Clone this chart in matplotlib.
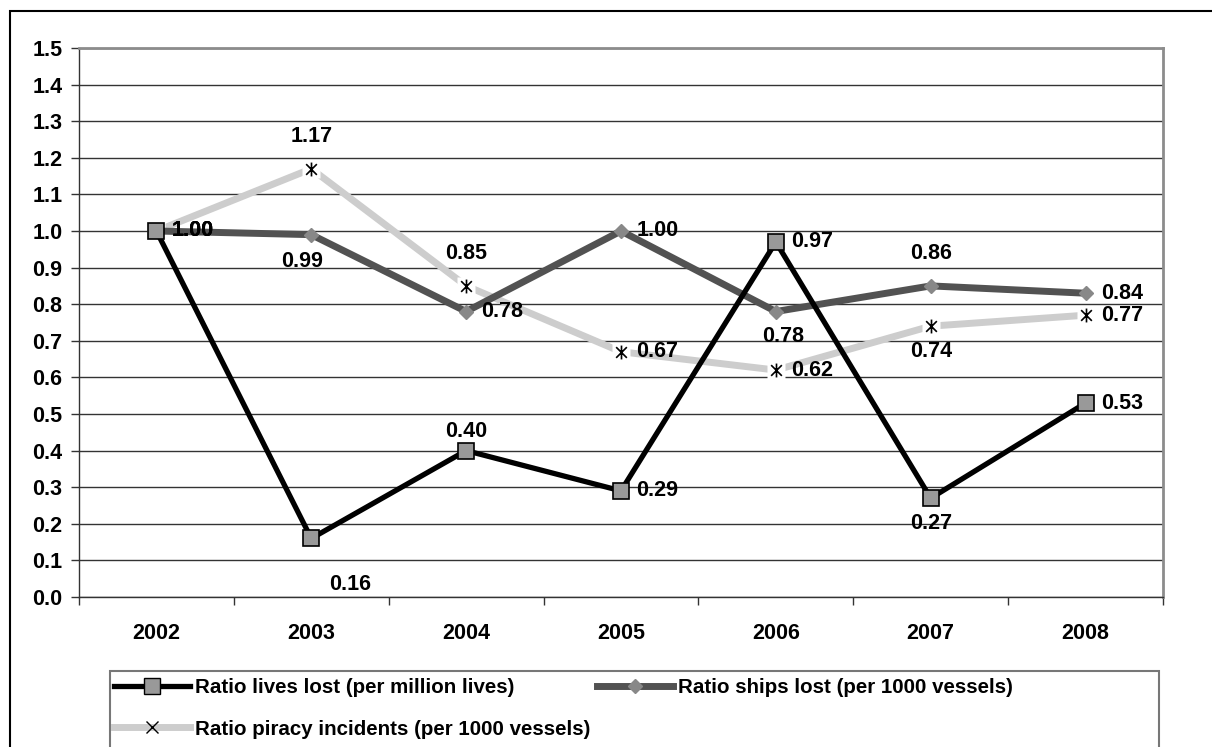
import matplotlib
matplotlib.use("Agg")
import matplotlib.pyplot as plt
from matplotlib.patches import Rectangle
from matplotlib.path import Path

# ratios relative to 2002
years = ["2002", "2003", "2004", "2005", "2006", "2007", "2008"]
lives_lost = [1.00, 0.16, 0.40, 0.29, 0.97, 0.27, 0.53]
ships_lost = [1.00, 0.99, 0.78, 1.00, 0.78, 0.85, 0.83]
ships_labels = [1.00, 0.99, 0.78, 1.00, 0.78, 0.86, 0.84]
piracy = [1.00, 1.17, 0.85, 0.67, 0.62, 0.74, 0.77]

# where each value label sits relative to its point
lives_pos = ["r", "r16", "a", "r", "r", "b", "r"]
ships_pos = ["r", "b99", "r", "r", "b78", "a", "r"]
piracy_pos = ["r", "a", "a", "r", "r", "b", "r"]

FONT = "Liberation Sans"
plt.rcParams["font.family"] = [FONT, "DejaVu Sans"]
plt.rcParams["font.weight"] = "bold"
FS = 15.5

W, H = 1212, 747
fig = plt.figure(figsize=(W / 100, H / 100), dpi=100)

# outer chart frame
fig.patches.append(Rectangle((10 / W, -0.05), 1.05, 1 - 11 / H + 0.05,
                             transform=fig.transFigure, fill=False,
                             edgecolor="black", linewidth=1.5))

ax = fig.add_axes([79 / W, 1 - 597 / H, (1163 - 79) / W, (597 - 48) / H])
x = list(range(len(years)))

# Excel style star: an x with a vertical bar
star = Path([(-1, -1), (1, 1), (-1, 1), (1, -1), (0, -1.3), (0, 1.3)],
            [Path.MOVETO, Path.LINETO, Path.MOVETO, Path.LINETO,
             Path.MOVETO, Path.LINETO])

ax.plot(x, piracy, color="#cdcdcd", linewidth=5, zorder=3,
        solid_capstyle="butt")
ax.plot(x, piracy, linestyle="none", marker="s", markersize=13,
        markerfacecolor="white", markeredgecolor="none", zorder=3.5)
ax.plot(x, piracy, linestyle="none", marker=star, markersize=10,
        markerfacecolor="none", markeredgecolor="black",
        markeredgewidth=1.2, zorder=3.6)
ax.plot(x, ships_lost, color="#525252", linewidth=5, marker="D",
        markersize=7, markerfacecolor="#888888", markeredgecolor="#888888",
        zorder=4)
ax.plot(x, lives_lost, color="black", linewidth=3.8, marker="s",
        markersize=11, markerfacecolor="#999999", markeredgecolor="black",
        markeredgewidth=1.2, zorder=5)


def put_labels(vals, shown, pos, above=23):
    for i, (v, s, p) in enumerate(zip(vals, shown, pos)):
        if p == "r":
            off, ha = (11, 0), "left"
        elif p == "a":
            off, ha = (0, above), "center"
        elif p == "b":
            off, ha = (0, -18), "center"
        elif p == "r16":
            off, ha = (28, -33), "center"
        elif p == "b99":
            off, ha = (-7, -19), "center"
        else:
            off, ha = (5, -18), "center"
        ax.annotate(f"{s:.2f}", (i, v), xytext=off, textcoords="offset points",
                    ha=ha, va="center", fontsize=FS, fontweight="bold",
                    zorder=6)


put_labels(piracy, piracy, piracy_pos)
put_labels(ships_lost, ships_labels, ships_pos)
put_labels(lives_lost, lives_lost, lives_pos, above=14)

ax.set_xlim(-0.5, 6.5)
ax.set_ylim(0, 1.5)
ax.set_yticks([i / 10 for i in range(16)])
ax.set_yticklabels([f"{i / 10:.1f}" for i in range(16)], fontsize=FS,
                   fontweight="bold")
ax.set_xticks(x)
ax.set_xticklabels(years, fontsize=FS, fontweight="bold")
ax.set_xticks([i - 0.5 for i in range(8)], minor=True)
ax.tick_params(axis="x", which="major", length=0, pad=19)
ax.tick_params(axis="x", which="minor", length=6, width=1, color="#333333")
ax.tick_params(axis="y", length=6, width=1, color="#333333", pad=6)
ax.grid(axis="y", color="#333333", linewidth=1)
ax.set_axisbelow(True)
for side in ["top", "right"]:
    ax.spines[side].set_color("#8c8c8c")
    ax.spines[side].set_linewidth(2)
ax.spines["left"].set_color("#333333")
ax.spines["bottom"].set_color("#333333")
ax.spines["left"].set_linewidth(1)
ax.spines["bottom"].set_linewidth(1)

# legend box runs off the bottom edge
fig.patches.append(Rectangle((110 / W, -0.05), (1159 - 110) / W,
                             1 - 671 / H + 0.05, transform=fig.transFigure,
                             fill=False, edgecolor="#777777", linewidth=1.5))

h_lives = plt.Line2D([], [], color="black", linewidth=3.8, marker="s",
                     markersize=11, markerfacecolor="#999999",
                     markeredgecolor="black")
h_ships = plt.Line2D([], [], color="#525252", linewidth=5, marker="D",
                     markersize=7, markerfacecolor="#888888",
                     markeredgecolor="#888888")
h_piracy = plt.Line2D([], [], color="#cdcdcd", linewidth=5, marker="x",
                      markersize=8, markeredgecolor="black")
fig.legend([h_lives, h_piracy, h_ships],
           ["Ratio lives lost (per million lives)",
            "Ratio piracy incidents (per 1000 vessels)",
            "Ratio ships lost (per 1000 vessels)"],
           loc="upper left", bbox_to_anchor=(114 / W, 1 - 678 / H), ncol=2,
           frameon=False, prop={"size": 14.8, "weight": "bold"},
           handlelength=3.7, handletextpad=0.25, columnspacing=0.3,
           labelspacing=1.1, borderpad=0, borderaxespad=0)

fig.savefig("out.png", dpi=100)
